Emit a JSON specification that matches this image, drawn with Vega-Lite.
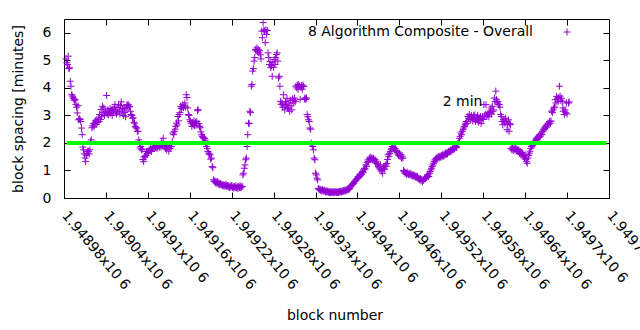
{
"$schema":"https://vega.github.io/schema/vega-lite/v6.json",
"width":545,"height":179,
"autosize":{"type":"none"},
"padding":{"left":64,"top":19,"right":31,"bottom":132},
"background":"white",
"config":{"font":"DejaVu Sans","view":{"stroke":"black","strokeWidth":1},
"axis":{"labelFont":"DejaVu Sans","labelFontSize":14,"labelColor":"black","tickColor":"black","tickWidth":1,"domain":false,"grid":false,"titleFont":"DejaVu Sans","titleFontSize":14,"titleFontWeight":"normal","titleColor":"black"}},
"resolve":{"axis":{"x":"independent","y":"independent"}},
"layer":[
{"data":{"values":[
{"b":1948983,"v":5.05},{"b":1948984,"v":4.91},{"b":1948985,"v":4.85},{"b":1948986,"v":5.15},{"b":1948987,"v":4.7},{"b":1948988,"v":4.73},{"b":1948989,"v":4.24},{"b":1948990,"v":4.06},{"b":1948991,"v":3.75},{"b":1948992,"v":3.7},{"b":1948993,"v":3.63},{"b":1948994,"v":3.6},{"b":1948995,"v":3.55},{"b":1948996,"v":3.57},{"b":1948997,"v":3.4},{"b":1948998,"v":3.3},{"b":1948999,"v":3.09},{"b":1949000,"v":3.35},{"b":1949001,"v":2.84},{"b":1949002,"v":2.88},{"b":1949003,"v":2.85},{"b":1949004,"v":2.78},{"b":1949005,"v":2.54},{"b":1949006,"v":2.3},{"b":1949007,"v":1.85},{"b":1949008,"v":1.75},{"b":1949009,"v":1.6},{"b":1949010,"v":1.45},{"b":1949011,"v":1.32},{"b":1949012,"v":1.55},{"b":1949013,"v":1.62},{"b":1949014,"v":1.7},{"b":1949015,"v":1.69},{"b":1949016,"v":1.6},{"b":1949017,"v":1.75},{"b":1949018,"v":2.05},{"b":1949019,"v":2.11},
{"b":1949020,"v":2.55},{"b":1949021,"v":2.62},{"b":1949022,"v":2.7},{"b":1949023,"v":2.58},{"b":1949024,"v":2.72},{"b":1949025,"v":2.8},{"b":1949026,"v":2.68},{"b":1949027,"v":2.84},{"b":1949028,"v":2.75},{"b":1949029,"v":2.9},{"b":1949030,"v":2.78},{"b":1949031,"v":3.03},{"b":1949032,"v":2.85},{"b":1949033,"v":3.21},{"b":1949034,"v":2.95},{"b":1949035,"v":3.33},{"b":1949036,"v":3.1},{"b":1949037,"v":3.27},{"b":1949038,"v":3.0},{"b":1949039,"v":3.15},{"b":1949040,"v":3.09},{"b":1949041,"v":3.72},{"b":1949042,"v":3.05},{"b":1949043,"v":3.2},{"b":1949044,"v":3.02},{"b":1949045,"v":3.12},{"b":1949046,"v":3.25},{"b":1949047,"v":3.08},{"b":1949048,"v":3.18},{"b":1949049,"v":3.0},{"b":1949050,"v":3.22},{"b":1949051,"v":3.1},{"b":1949052,"v":3.3},{"b":1949053,"v":3.39},{"b":1949054,"v":3.15},{"b":1949055,"v":3.05},{"b":1949056,"v":3.28},{"b":1949057,"v":3.12},{"b":1949058,"v":3.4},{"b":1949059,"v":3.2},{"b":1949060,"v":3.05},{"b":1949061,"v":3.35},{"b":1949062,"v":3.49},{"b":1949063,"v":3.15},{"b":1949064,"v":3.25},{"b":1949065,"v":3.0},{"b":1949066,"v":3.3},{"b":1949067,"v":3.1},{"b":1949068,"v":2.95},{"b":1949069,"v":3.2},{"b":1949070,"v":3.38},{"b":1949071,"v":3.35},{"b":1949072,"v":3.39},{"b":1949073,"v":3.3},{"b":1949074,"v":3.33},{"b":1949075,"v":3.15},{"b":1949076,"v":3.03},{"b":1949077,"v":3.0},{"b":1949078,"v":2.9},{"b":1949079,"v":2.9},{"b":1949080,"v":2.75},{"b":1949081,"v":2.72},{"b":1949082,"v":2.6},{"b":1949083,"v":2.55},{"b":1949084,"v":2.54},{"b":1949085,"v":2.42},{"b":1949086,"v":2.42},{"b":1949087,"v":2.11},{"b":1949088,"v":1.99},{"b":1949089,"v":1.81},{"b":1949090,"v":1.87},{"b":1949091,"v":1.75},{"b":1949092,"v":1.78},{"b":1949093,"v":1.4},{"b":1949094,"v":1.32},{"b":1949095,"v":1.51},{"b":1949096,"v":1.48},{"b":1949097,"v":1.55},
{"b":1949098,"v":1.69},{"b":1949099,"v":1.62},{"b":1949100,"v":1.7},{"b":1949101,"v":1.66},{"b":1949102,"v":1.75},{"b":1949103,"v":1.72},{"b":1949104,"v":1.8},{"b":1949105,"v":1.69},{"b":1949106,"v":1.78},{"b":1949107,"v":1.82},{"b":1949108,"v":1.85},{"b":1949109,"v":1.8},{"b":1949110,"v":1.87},{"b":1949111,"v":1.83},{"b":1949112,"v":1.9},{"b":1949113,"v":1.8},{"b":1949114,"v":1.86},{"b":1949115,"v":1.92},{"b":1949116,"v":1.84},{"b":1949117,"v":1.88},{"b":1949118,"v":1.95},{"b":1949119,"v":1.85},{"b":1949120,"v":2.05},{"b":1949121,"v":1.9},{"b":1949122,"v":2.17},{"b":1949123,"v":1.95},{"b":1949124,"v":1.87},{"b":1949125,"v":1.8},{"b":1949126,"v":1.9},{"b":1949127,"v":1.75},{"b":1949128,"v":1.85},{"b":1949129,"v":1.92},{"b":1949130,"v":1.7},{"b":1949131,"v":1.88},{"b":1949132,"v":1.8},{"b":1949133,"v":1.95},{"b":1949134,"v":1.87},{"b":1949135,"v":2.05},
{"b":1949136,"v":2.36},{"b":1949137,"v":2.3},{"b":1949138,"v":2.42},{"b":1949139,"v":2.5},{"b":1949140,"v":2.6},{"b":1949141,"v":2.72},{"b":1949142,"v":2.65},{"b":1949143,"v":2.96},{"b":1949144,"v":2.8},{"b":1949145,"v":3.03},{"b":1949146,"v":3.1},{"b":1949147,"v":3.33},{"b":1949148,"v":3.25},{"b":1949149,"v":3.3},{"b":1949150,"v":3.39},{"b":1949151,"v":3.28},{"b":1949152,"v":3.35},{"b":1949153,"v":3.45},{"b":1949154,"v":3.3},{"b":1949155,"v":3.75},{"b":1949156,"v":3.65},{"b":1949157,"v":3.27},{"b":1949158,"v":3.03},{"b":1949159,"v":3.0},{"b":1949160,"v":2.84},{"b":1949161,"v":2.78},{"b":1949162,"v":2.72},{"b":1949163,"v":2.6},{"b":1949164,"v":2.72},{"b":1949165,"v":2.66},{"b":1949166,"v":2.8},{"b":1949167,"v":2.62},{"b":1949168,"v":2.75},{"b":1949169,"v":2.65},{"b":1949170,"v":2.78},{"b":1949171,"v":3.17},{"b":1949172,"v":3.21},{"b":1949173,"v":2.7},{"b":1949174,"v":2.6},{"b":1949175,"v":2.55},{"b":1949176,"v":2.4},{"b":1949177,"v":2.3},{"b":1949178,"v":2.24},{"b":1949179,"v":2.2},{"b":1949180,"v":2.17},{"b":1949181,"v":2.17},{"b":1949182,"v":2.1},{"b":1949183,"v":2.0},{"b":1949184,"v":1.87},{"b":1949185,"v":1.8},{"b":1949186,"v":1.69},{"b":1949187,"v":1.63},{"b":1949188,"v":1.6},{"b":1949189,"v":1.57},{"b":1949190,"v":1.41},{"b":1949191,"v":1.45},{"b":1949192,"v":1.14},{"b":1949193,"v":1.1},{"b":1949194,"v":0.66},{"b":1949195,"v":0.6},
{"b":1949196,"v":0.62},{"b":1949197,"v":0.55},{"b":1949198,"v":0.58},{"b":1949199,"v":0.52},{"b":1949200,"v":0.6},{"b":1949201,"v":0.5},{"b":1949202,"v":0.55},{"b":1949203,"v":0.48},{"b":1949204,"v":0.52},{"b":1949205,"v":0.47},{"b":1949206,"v":0.5},{"b":1949207,"v":0.45},{"b":1949208,"v":0.48},{"b":1949209,"v":0.42},{"b":1949210,"v":0.47},{"b":1949211,"v":0.44},{"b":1949212,"v":0.5},{"b":1949213,"v":0.42},{"b":1949214,"v":0.45},{"b":1949215,"v":0.4},{"b":1949216,"v":0.44},{"b":1949217,"v":0.38},{"b":1949218,"v":0.43},{"b":1949219,"v":0.4},{"b":1949220,"v":0.45},{"b":1949221,"v":0.38},{"b":1949222,"v":0.42},{"b":1949223,"v":0.36},{"b":1949224,"v":0.41},{"b":1949225,"v":0.38},{"b":1949226,"v":0.44},{"b":1949227,"v":0.37},{"b":1949228,"v":0.4},{"b":1949229,"v":0.35},{"b":1949230,"v":0.42},{"b":1949231,"v":0.38},{"b":1949232,"v":0.45},{"b":1949233,"v":0.37},{"b":1949234,"v":0.4},{"b":1949235,"v":0.42},
{"b":1949236,"v":0.84},{"b":1949237,"v":0.9},{"b":1949238,"v":1.08},{"b":1949239,"v":1.2},{"b":1949240,"v":1.39},{"b":1949241,"v":1.45},{"b":1949242,"v":1.87},{"b":1949243,"v":2.3},{"b":1949244,"v":2.72},{"b":1949245,"v":2.7},{"b":1949246,"v":3.15},{"b":1949247,"v":3.1},{"b":1949248,"v":4.06},{"b":1949249,"v":4.12},{"b":1949250,"v":4.61},{"b":1949251,"v":4.7},{"b":1949252,"v":4.97},{"b":1949253,"v":5.1},{"b":1949254,"v":5.39},{"b":1949255,"v":5.35},{"b":1949256,"v":5.45},{"b":1949257,"v":5.33},{"b":1949258,"v":5.4},{"b":1949259,"v":5.27},{"b":1949260,"v":5.35},{"b":1949261,"v":5.2},{"b":1949262,"v":5.05},{"b":1949263,"v":6.06},{"b":1949264,"v":5.82},{"b":1949265,"v":6.37},{"b":1949266,"v":6.1},{"b":1949267,"v":6.06},{"b":1949268,"v":5.64},{"b":1949269,"v":6.1},{"b":1949270,"v":5.94},{"b":1949271,"v":6.08},{"b":1949272,"v":5.27},{"b":1949273,"v":5.1},{"b":1949274,"v":4.85},{"b":1949275,"v":4.95},{"b":1949276,"v":4.73},{"b":1949277,"v":4.8},{"b":1949278,"v":4.42},{"b":1949279,"v":4.91},{"b":1949280,"v":4.75},{"b":1949281,"v":5.03},{"b":1949282,"v":4.85},{"b":1949283,"v":5.1},{"b":1949284,"v":5.21},{"b":1949285,"v":5.27},{"b":1949286,"v":4.97},{"b":1949287,"v":4.36},{"b":1949288,"v":4.42},{"b":1949289,"v":4.06},
{"b":1949290,"v":3.51},{"b":1949291,"v":3.4},{"b":1949292,"v":3.45},{"b":1949293,"v":3.3},{"b":1949294,"v":3.75},{"b":1949295,"v":3.35},{"b":1949296,"v":3.2},{"b":1949297,"v":3.5},{"b":1949298,"v":3.4},{"b":1949299,"v":3.62},{"b":1949300,"v":3.3},{"b":1949301,"v":3.25},{"b":1949302,"v":3.45},{"b":1949303,"v":3.15},{"b":1949304,"v":3.55},{"b":1949305,"v":3.35},{"b":1949306,"v":3.2},{"b":1949307,"v":3.6},{"b":1949308,"v":3.45},{"b":1949309,"v":3.55},{"b":1949310,"v":3.63},{"b":1949311,"v":3.5},{"b":1949312,"v":4.06},{"b":1949313,"v":4.0},{"b":1949314,"v":4.1},{"b":1949315,"v":3.95},{"b":1949316,"v":4.12},{"b":1949317,"v":4.06},{"b":1949318,"v":3.58},{"b":1949319,"v":4.02},{"b":1949320,"v":4.08},{"b":1949321,"v":3.95},{"b":1949322,"v":4.1},{"b":1949323,"v":4.05},{"b":1949324,"v":3.6},{"b":1949325,"v":3.63},{"b":1949326,"v":3.58},{"b":1949327,"v":3.63},{"b":1949328,"v":3.03},{"b":1949329,"v":2.95},{"b":1949330,"v":2.84},{"b":1949331,"v":2.78},{"b":1949332,"v":2.54},{"b":1949333,"v":2.5},{"b":1949334,"v":1.99},{"b":1949335,"v":1.93},{"b":1949336,"v":1.87},{"b":1949337,"v":1.75},{"b":1949338,"v":1.45},{"b":1949339,"v":1.39},{"b":1949340,"v":0.9},{"b":1949341,"v":0.84},{"b":1949342,"v":0.72},{"b":1949343,"v":0.66},{"b":1949344,"v":0.35},{"b":1949345,"v":0.3},
{"b":1949346,"v":0.32},{"b":1949347,"v":0.28},{"b":1949348,"v":0.3},{"b":1949349,"v":0.25},{"b":1949350,"v":0.3},{"b":1949351,"v":0.27},{"b":1949352,"v":0.24},{"b":1949353,"v":0.28},{"b":1949354,"v":0.22},{"b":1949355,"v":0.26},{"b":1949356,"v":0.22},{"b":1949357,"v":0.25},{"b":1949358,"v":0.2},{"b":1949359,"v":0.24},{"b":1949360,"v":0.2},{"b":1949361,"v":0.23},{"b":1949362,"v":0.19},{"b":1949363,"v":0.22},{"b":1949364,"v":0.2},{"b":1949365,"v":0.24},{"b":1949366,"v":0.19},{"b":1949367,"v":0.22},{"b":1949368,"v":0.2},{"b":1949369,"v":0.24},{"b":1949370,"v":0.21},{"b":1949371,"v":0.19},{"b":1949372,"v":0.23},{"b":1949373,"v":0.2},{"b":1949374,"v":0.24},{"b":1949375,"v":0.21},{"b":1949376,"v":0.25},{"b":1949377,"v":0.22},{"b":1949378,"v":0.26},{"b":1949379,"v":0.23},{"b":1949380,"v":0.27},{"b":1949381,"v":0.25},{"b":1949382,"v":0.29},{"b":1949383,"v":0.26},{"b":1949384,"v":0.3},{"b":1949385,"v":0.28},{"b":1949386,"v":0.32},{"b":1949387,"v":0.3},{"b":1949388,"v":0.35},{"b":1949389,"v":0.33},{"b":1949390,"v":0.4},{"b":1949391,"v":0.45},{"b":1949392,"v":0.47},{"b":1949393,"v":0.5},{"b":1949394,"v":0.52},{"b":1949395,"v":0.55},{"b":1949396,"v":0.6},{"b":1949397,"v":0.62},{"b":1949398,"v":0.66},{"b":1949399,"v":0.7},{"b":1949400,"v":0.72},
{"b":1949401,"v":0.78},{"b":1949402,"v":0.75},{"b":1949403,"v":0.84},{"b":1949404,"v":0.8},{"b":1949405,"v":0.9},{"b":1949406,"v":0.85},{"b":1949407,"v":0.96},{"b":1949408,"v":0.92},{"b":1949409,"v":1.02},{"b":1949410,"v":1.08},{"b":1949411,"v":1.05},{"b":1949412,"v":1.2},{"b":1949413,"v":1.15},{"b":1949414,"v":1.3},{"b":1949415,"v":1.38},{"b":1949416,"v":1.32},{"b":1949417,"v":1.45},{"b":1949418,"v":1.4},{"b":1949419,"v":1.48},{"b":1949420,"v":1.42},{"b":1949421,"v":1.45},{"b":1949422,"v":1.38},{"b":1949423,"v":1.44},{"b":1949424,"v":1.35},{"b":1949425,"v":1.4},{"b":1949426,"v":1.3},{"b":1949427,"v":1.33},{"b":1949428,"v":1.25},{"b":1949429,"v":1.2},{"b":1949430,"v":1.14},{"b":1949431,"v":1.1},{"b":1949432,"v":1.05},{"b":1949433,"v":1.2},{"b":1949434,"v":0.98},{"b":1949435,"v":1.02},{"b":1949436,"v":0.9},{"b":1949437,"v":1.08},{"b":1949438,"v":1.14},{"b":1949439,"v":1.05},{"b":1949440,"v":1.2},{"b":1949441,"v":1.15},{"b":1949442,"v":1.25},{"b":1949443,"v":1.4},{"b":1949444,"v":1.57},{"b":1949445,"v":1.5},{"b":1949446,"v":1.62},{"b":1949447,"v":1.68},{"b":1949448,"v":1.75},{"b":1949449,"v":1.8},{"b":1949450,"v":1.87},{"b":1949451,"v":1.82},{"b":1949452,"v":1.85},{"b":1949453,"v":1.78},{"b":1949454,"v":1.8},{"b":1949455,"v":1.72},{"b":1949456,"v":1.7},{"b":1949457,"v":1.65},{"b":1949458,"v":1.6},{"b":1949459,"v":1.55},{"b":1949460,"v":1.63},{"b":1949461,"v":1.5},{"b":1949462,"v":1.58},{"b":1949463,"v":1.45},{"b":1949464,"v":1.52},
{"b":1949465,"v":1.45},{"b":1949466,"v":1.0},{"b":1949467,"v":0.96},{"b":1949468,"v":0.9},{"b":1949469,"v":0.92},{"b":1949470,"v":0.86},{"b":1949471,"v":0.94},{"b":1949472,"v":0.88},{"b":1949473,"v":0.85},{"b":1949474,"v":0.9},{"b":1949475,"v":0.84},{"b":1949476,"v":0.88},{"b":1949477,"v":0.82},{"b":1949478,"v":0.86},{"b":1949479,"v":0.8},{"b":1949480,"v":0.84},{"b":1949481,"v":0.78},{"b":1949482,"v":0.82},{"b":1949483,"v":0.76},{"b":1949484,"v":0.8},{"b":1949485,"v":0.74},{"b":1949486,"v":0.78},{"b":1949487,"v":0.7},{"b":1949488,"v":0.72},{"b":1949489,"v":0.66},{"b":1949490,"v":0.7},{"b":1949491,"v":0.62},{"b":1949492,"v":0.68},{"b":1949493,"v":0.6},{"b":1949494,"v":0.64},{"b":1949495,"v":0.66},{"b":1949496,"v":0.72},{"b":1949497,"v":0.7},{"b":1949498,"v":0.76},{"b":1949499,"v":0.74},{"b":1949500,"v":0.8},{"b":1949501,"v":0.84},{"b":1949502,"v":0.78},{"b":1949503,"v":0.9},{"b":1949504,"v":0.96},{"b":1949505,"v":1.02},{"b":1949506,"v":1.08},{"b":1949507,"v":1.14},{"b":1949508,"v":1.2},{"b":1949509,"v":1.26},{"b":1949510,"v":1.32},{"b":1949511,"v":1.38},{"b":1949512,"v":1.42},{"b":1949513,"v":1.45},{"b":1949514,"v":1.4},{"b":1949515,"v":1.48},{"b":1949516,"v":1.5},{"b":1949517,"v":1.45},{"b":1949518,"v":1.52},{"b":1949519,"v":1.48},{"b":1949520,"v":1.55},
{"b":1949521,"v":1.5},{"b":1949522,"v":1.57},{"b":1949523,"v":1.52},{"b":1949524,"v":1.6},{"b":1949525,"v":1.55},{"b":1949526,"v":1.62},{"b":1949527,"v":1.58},{"b":1949528,"v":1.65},{"b":1949529,"v":1.6},{"b":1949530,"v":1.68},{"b":1949531,"v":1.7},{"b":1949532,"v":1.66},{"b":1949533,"v":1.72},{"b":1949534,"v":1.75},{"b":1949535,"v":1.7},{"b":1949536,"v":1.78},{"b":1949537,"v":1.8},{"b":1949538,"v":1.75},{"b":1949539,"v":1.82},{"b":1949540,"v":1.85},{"b":1949541,"v":1.87},{"b":1949542,"v":1.83},{"b":1949543,"v":1.95},{"b":1949544,"v":1.99},{"b":1949545,"v":2.05},{"b":1949546,"v":2.17},{"b":1949547,"v":2.24},{"b":1949548,"v":2.36},{"b":1949549,"v":2.3},{"b":1949550,"v":2.42},{"b":1949551,"v":2.48},{"b":1949552,"v":2.54},{"b":1949553,"v":2.6},{"b":1949554,"v":2.66},{"b":1949555,"v":2.72},{"b":1949556,"v":2.78},{"b":1949557,"v":2.7},{"b":1949558,"v":2.96},{"b":1949559,"v":2.9},{"b":1949560,"v":3.03},
{"b":1949561,"v":2.95},{"b":1949562,"v":2.85},{"b":1949563,"v":3.0},{"b":1949564,"v":2.9},{"b":1949565,"v":2.8},{"b":1949566,"v":2.98},{"b":1949567,"v":2.86},{"b":1949568,"v":3.02},{"b":1949569,"v":2.78},{"b":1949570,"v":2.92},{"b":1949571,"v":2.84},{"b":1949572,"v":3.0},{"b":1949573,"v":2.75},{"b":1949574,"v":2.9},{"b":1949575,"v":2.82},{"b":1949576,"v":2.96},{"b":1949577,"v":2.7},{"b":1949578,"v":2.88},{"b":1949579,"v":2.95},{"b":1949580,"v":2.85},{"b":1949581,"v":3.39},{"b":1949582,"v":2.98},{"b":1949583,"v":3.05},{"b":1949584,"v":3.39},{"b":1949585,"v":2.96},{"b":1949586,"v":3.02},{"b":1949587,"v":3.09},{"b":1949588,"v":2.95},{"b":1949589,"v":3.1},{"b":1949590,"v":3.15},{"b":1949591,"v":3.27},{"b":1949592,"v":3.05},{"b":1949593,"v":3.33},{"b":1949594,"v":3.15},{"b":1949595,"v":3.2},{"b":1949596,"v":3.63},{"b":1949597,"v":3.5},{"b":1949598,"v":3.88},{"b":1949599,"v":3.57},{"b":1949600,"v":3.45},{"b":1949601,"v":3.5},{"b":1949602,"v":3.39},{"b":1949603,"v":3.4},{"b":1949604,"v":3.3},{"b":1949605,"v":3.03},{"b":1949606,"v":2.96},{"b":1949607,"v":2.78},{"b":1949608,"v":2.66},{"b":1949609,"v":2.85},{"b":1949610,"v":2.8},{"b":1949611,"v":2.72},{"b":1949612,"v":2.9},{"b":1949613,"v":2.78},{"b":1949614,"v":2.48},{"b":1949615,"v":2.66},{"b":1949616,"v":2.84},{"b":1949617,"v":2.42},{"b":1949618,"v":2.7},{"b":1949619,"v":2.66},
{"b":1949620,"v":1.8},{"b":1949621,"v":1.75},{"b":1949622,"v":1.85},{"b":1949623,"v":1.72},{"b":1949624,"v":1.8},{"b":1949625,"v":1.76},{"b":1949626,"v":1.82},{"b":1949627,"v":1.7},{"b":1949628,"v":1.78},{"b":1949629,"v":1.74},{"b":1949630,"v":1.68},{"b":1949631,"v":1.75},{"b":1949632,"v":1.62},{"b":1949633,"v":1.7},{"b":1949634,"v":1.58},{"b":1949635,"v":1.65},{"b":1949636,"v":1.6},{"b":1949637,"v":1.55},{"b":1949638,"v":1.5},{"b":1949639,"v":1.45},{"b":1949640,"v":1.57},{"b":1949641,"v":1.4},{"b":1949642,"v":1.32},{"b":1949643,"v":1.26},{"b":1949644,"v":1.45},{"b":1949645,"v":1.55},{"b":1949646,"v":1.63},{"b":1949647,"v":1.7},{"b":1949648,"v":1.8},{"b":1949649,"v":1.87},{"b":1949650,"v":1.93},
{"b":1949651,"v":1.9},{"b":1949652,"v":2.0},{"b":1949653,"v":1.95},{"b":1949654,"v":2.05},{"b":1949655,"v":2.1},{"b":1949656,"v":2.17},{"b":1949657,"v":2.12},{"b":1949658,"v":2.2},{"b":1949659,"v":2.24},{"b":1949660,"v":2.2},{"b":1949661,"v":2.3},{"b":1949662,"v":2.25},{"b":1949663,"v":2.36},{"b":1949664,"v":2.3},{"b":1949665,"v":2.42},{"b":1949666,"v":2.48},{"b":1949667,"v":2.54},{"b":1949668,"v":2.5},{"b":1949669,"v":2.6},{"b":1949670,"v":2.55},{"b":1949671,"v":2.66},{"b":1949672,"v":2.62},{"b":1949673,"v":2.72},{"b":1949674,"v":2.68},{"b":1949675,"v":2.78},{"b":1949676,"v":2.72},{"b":1949677,"v":2.8},{"b":1949678,"v":3.15},{"b":1949679,"v":3.1},{"b":1949680,"v":3.2},{"b":1949681,"v":3.27},{"b":1949682,"v":3.3},{"b":1949683,"v":3.57},{"b":1949684,"v":3.45},{"b":1949685,"v":3.69},{"b":1949686,"v":3.6},{"b":1949687,"v":3.5},{"b":1949688,"v":3.65},{"b":1949689,"v":4.06},{"b":1949690,"v":3.7},{"b":1949691,"v":3.55},{"b":1949692,"v":3.62},{"b":1949693,"v":3.5},{"b":1949694,"v":3.27},{"b":1949695,"v":3.15},{"b":1949696,"v":3.03},{"b":1949697,"v":3.2},{"b":1949698,"v":3.1},{"b":1949699,"v":3.45},{"b":1949700,"v":3.05},{"b":1949702,"v":3.45},{"b":1949703,"v":3.49}
]},
"mark":{"type":"point","shape":"M-1,0L1,0M0,-1L0,1","filled":false,"strokeWidth":1,"size":49,"opacity":1},
"encoding":{
"x":{"field":"b","type":"quantitative","scale":{"domain":[1948980,1949760],"nice":false,"zero":false},
"axis":{"orient":"bottom","values":[1948980,1949040,1949100,1949160,1949220,1949280,1949340,1949400,1949460,1949520,1949580,1949640,1949700,1949760],"labelExpr":"format(datum.value/1000000,'.6~g')+'x10 6'","labelAngle":50,"labelAlign":"left","labelBaseline":"middle","tickSize":-6,"labelPadding":21,"labelOverlap":false,"labelFlush":false,"title":"block number","titleX":270.5,"titleY":117,"titleBaseline":"middle","titleAlign":"center"}},
"y":{"field":"v","type":"quantitative","scale":{"domain":[0,6.5],"nice":false},
"axis":{"orient":"left","values":[0,1,2,3,4,5,6],"tickSize":-6,"labelPadding":19,"title":"block spacing [minutes]","titleX":-46,"titleY":89.5,"titleAngle":-90,"titleBaseline":"middle","titleAlign":"center"}},
"color":{"datum":"8 Algorithm Composite - Overall","type":"nominal","scale":{"range":["#9400d3"]},
"legend":{"orient":"none","legendX":496,"legendY":6,"title":null,"padding":0,"symbolType":"M-1,0L1,0M0,-1L0,1","symbolSize":49,"symbolStrokeWidth":1,"symbolStrokeColor":"#9400d3","symbolFillColor":"transparent","labelAlign":"right","labelOffset":-41,"labelFont":"DejaVu Sans","labelFontSize":14,"labelColor":"black","labelLimit":400}}
}},
{"data":{"values":[{"b1":1948984,"b2":1949756,"v":2}]},
"mark":{"type":"rule","color":"#00ff00","strokeWidth":4},
"encoding":{
"x":{"field":"b1","type":"quantitative","scale":{"domain":[1948980,1949760],"nice":false,"zero":false},
"axis":{"orient":"top","values":[1948980,1949040,1949100,1949160,1949220,1949280,1949340,1949400,1949460,1949520,1949580,1949640,1949700,1949760],"labels":false,"tickSize":-6,"title":null}},
"x2":{"field":"b2"},
"y":{"field":"v","type":"quantitative","scale":{"domain":[0,6.5],"nice":false},
"axis":{"orient":"right","values":[0,1,2,3,4,5,6],"labels":false,"tickSize":-6,"title":null}}
}},
{"data":{"values":[{"b":1949522,"v":3.5,"t":"2 min"}]},
"mark":{"type":"text","align":"left","baseline":"middle","font":"DejaVu Sans","fontSize":14,"color":"black"},
"encoding":{
"x":{"field":"b","type":"quantitative","scale":{"domain":[1948980,1949760],"nice":false,"zero":false},"axis":null},
"y":{"field":"v","type":"quantitative","scale":{"domain":[0,6.5],"nice":false},"axis":null},
"text":{"field":"t"}
}}
]
}
